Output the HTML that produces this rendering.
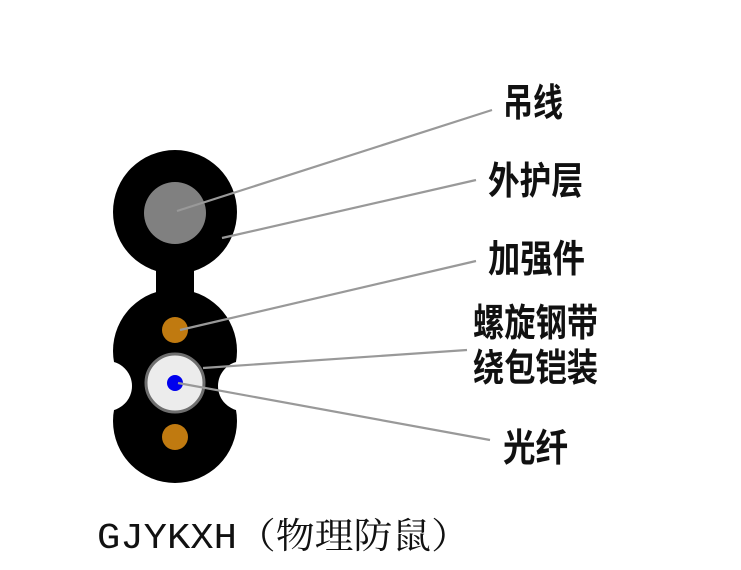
<!DOCTYPE html>
<html><head><meta charset="utf-8"><style>
html,body{margin:0;padding:0;background:#fff;width:741px;height:570px;overflow:hidden}
</style></head><body>
<svg width="741" height="570" viewBox="0 0 741 570" xmlns="http://www.w3.org/2000/svg">
<rect width="741" height="570" fill="#fff"/>
<circle cx="175" cy="212" r="62" fill="#000"/>
<rect x="156" y="262" width="38" height="40" fill="#000"/>
<circle cx="175" cy="351" r="62" fill="#000"/>
<circle cx="175" cy="421" r="62" fill="#000"/>
<circle cx="107" cy="386" r="25" fill="#fff"/>
<circle cx="243" cy="386" r="25" fill="#fff"/>
<circle cx="175" cy="213" r="31" fill="#808080"/>
<circle cx="175" cy="330" r="13" fill="#c07a10"/>
<circle cx="175" cy="437" r="13" fill="#c07a10"/>
<circle cx="175" cy="383" r="29" fill="#ececec" stroke="#6e6e6e" stroke-width="3"/>
<circle cx="175" cy="383" r="8" fill="#0000ee"/>
<g stroke="#999" stroke-width="2.2">
<line x1="177" y1="211" x2="492" y2="110"/>
<line x1="222" y1="238" x2="476" y2="180"/>
<line x1="180" y1="330" x2="476" y2="261"/>
<line x1="203" y1="368" x2="467" y2="350"/>
<line x1="178" y1="383" x2="490" y2="440"/>
</g>
<g font-family="'Noto Sans CJK SC','WenQuanYi Zen Hei',sans-serif" font-weight="bold" font-size="38" fill="#111">
<text x="503" y="116" textLength="60" lengthAdjust="spacingAndGlyphs">吊线</text>
<text x="488" y="194" textLength="95" lengthAdjust="spacingAndGlyphs">外护层</text>
<text x="488" y="272" textLength="97" lengthAdjust="spacingAndGlyphs">加强件</text>
<text x="473" y="336" textLength="125" lengthAdjust="spacingAndGlyphs">螺旋钢带</text>
<text x="473" y="381" textLength="125" lengthAdjust="spacingAndGlyphs">绕包铠装</text>
<text x="503" y="461" textLength="65" lengthAdjust="spacingAndGlyphs">光纤</text>
</g>
<text x="97" y="548" font-family="'Liberation Mono','Noto Serif CJK SC',serif" font-size="36" fill="#111" textLength="373" lengthAdjust="spacingAndGlyphs">GJYKXH（物理防鼠）</text>
</svg>
</body></html>
